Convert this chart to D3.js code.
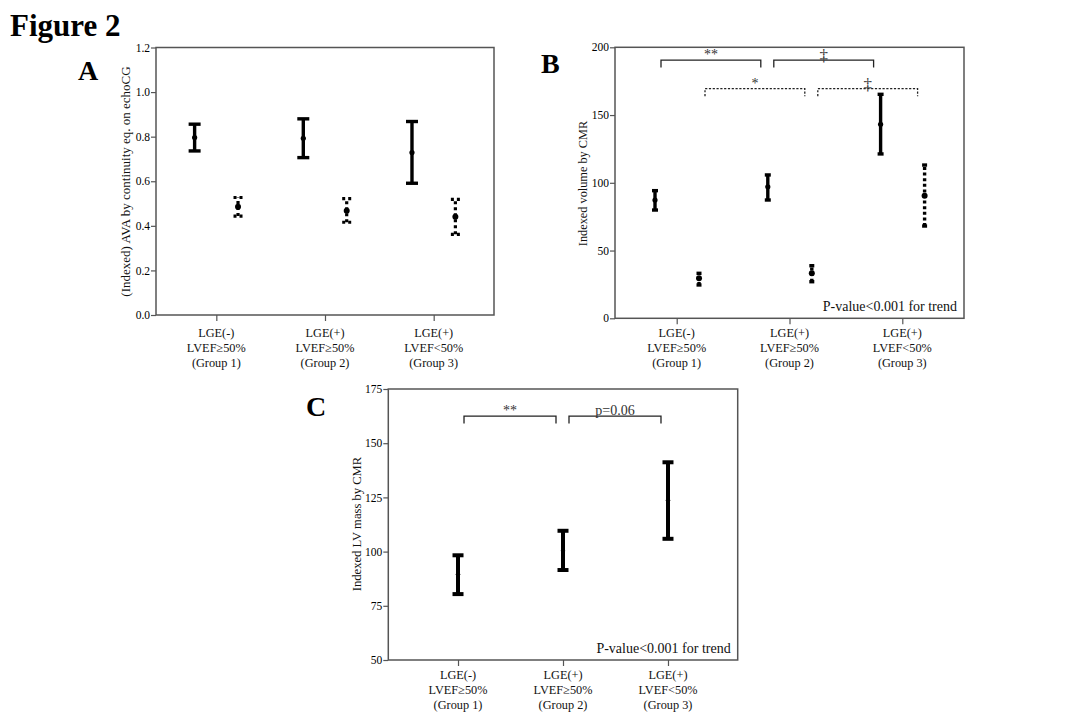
<!DOCTYPE html>
<html><head><meta charset="utf-8">
<script src="https://cdn.jsdelivr.net/npm/d3@7"></script>
<style>
body{margin:0;background:#fff}
svg{display:block;font-family:"Liberation Serif","Times New Roman",serif}
</style>
</head><body>
<svg id="chart" width="1080" height="720"></svg>
<script>
// ---------- data ----------
const groups = ["Group 1", "Group 2", "Group 3"];
const groupLabels = [
  ["LGE(-)", "LVEF\u226550%", "(Group 1)"],
  ["LGE(+)", "LVEF\u226550%", "(Group 2)"],
  ["LGE(+)", "LVEF<50%", "(Group 3)"]
];

// Panel A: (Indexed) AVA by continuity eq. on echoCG
const aSolidMean = [0.796, 0.793, 0.729];
const aSolidLow  = [0.736, 0.706, 0.591];
const aSolidHigh = [0.856, 0.880, 0.868];
const aDotMean   = [0.486, 0.468, 0.441];
const aDotLow    = [0.444, 0.416, 0.362];
const aDotHigh   = [0.527, 0.522, 0.519];
const aTicks = [0.0, 0.2, 0.4, 0.6, 0.8, 1.0, 1.2];

// Panel B: Indexed volume by CMR
const bSolidMean = [87.3, 97.1, 143.2];
const bSolidLow  = [79.9, 87.3, 121.3];
const bSolidHigh = [94.2, 105.8, 165.3];
const bDotMean   = [29.5, 33.2, 90.5];
const bDotLow    = [24.6, 27.0, 68.1];
const bDotHigh   = [33.2, 38.8, 113.1];
const bTicks = [0, 50, 100, 150, 200];
const bBrackets = [
  {from: 0, to: 1, series: "solid",  y: 190.6, label: "**"},
  {from: 1, to: 2, series: "solid",  y: 190.6, label: "\u2021"},
  {from: 0, to: 1, series: "dotted", y: 169.5, label: "*"},
  {from: 1, to: 2, series: "dotted", y: 169.5, label: "\u2021"}
];

// Panel C: Indexed LV mass by CMR
const cMean = [89.5, 100.4, 123.7];
const cLow  = [80.4, 91.5, 105.9];
const cHigh = [98.3, 109.6, 141.2];
const cTicks = [50, 75, 100, 125, 150, 175];
const cBrackets = [
  {from: 0, to: 1, series: "solid", y: 162.5, label: "**"},
  {from: 1, to: 2, series: "solid", y: 162.5, label: "p=0.06"}
];

const trendText = "P-value<0.001 for trend";

// ---------- drawing ----------
const svg = d3.select("#chart");
const AXIS = "#555";

function zip(m, lo, hi) { return m.map((v, i) => ({i, mean: v, low: lo[i], high: hi[i]})); }

function drawPanel(p) {
  const g = svg.append("g");
  const x = d3.scalePoint().domain(d3.range(groups.length)).range([p.l, p.r]).padding(p.pad);
  const y = d3.scaleLinear().domain(p.domain).range([p.b, p.t]);

  // y axis
  const ya = g.append("g").attr("transform", `translate(${p.l},0)`)
    .call(d3.axisLeft(y).tickValues(p.ticks).tickFormat(p.fmt).tickSize(5).tickPadding(1));
  ya.attr("font-family", null).attr("font-size", null);
  ya.select(".domain").remove();
  ya.selectAll("line").attr("stroke", AXIS).attr("stroke-width", 1.2);
  ya.selectAll("text").attr("font-size", 11.5).attr("fill", "#000")
    .attr("font-family", "Liberation Serif, serif");

  // x axis
  const xa = g.append("g").attr("transform", `translate(0,${p.b})`)
    .call(d3.axisBottom(x).tickSize(6).tickFormat(""));
  xa.select(".domain").remove();
  xa.selectAll("line").attr("stroke", AXIS).attr("stroke-width", 1.2);

  // x labels
  groupLabels.forEach((lines, i) => {
    lines.forEach((s, k) => {
      g.append("text").attr("x", x(i)).attr("y", p.b + p.lab0 + k * 15)
        .attr("text-anchor", "middle").attr("dominant-baseline", "central")
        .attr("font-size", 12.3).attr("fill", "#111").text(s);
    });
  });

  // frame
  g.append("rect").attr("x", p.l).attr("y", p.t).attr("width", p.r - p.l).attr("height", p.b - p.t)
    .attr("fill", "none").attr("stroke", AXIS).attr("stroke-width", 1.5);

  // y label
  g.append("text").attr("transform", `translate(${p.ylx},${p.ylc}) rotate(-90)`)
    .attr("text-anchor", "middle").attr("dominant-baseline", "central")
    .attr("font-size", p.ylfs).attr("fill", "#111").text(p.ylabel);

  // series
  p.series.forEach(s => {
    const dash = s.dotted ? s.dash : null;
    const sg = g.append("g");
    const pts = zip(s.mean, s.low, s.high);
    sg.selectAll(".v").data(pts).join("line")
      .attr("x1", d => x(d.i) + s.off).attr("x2", d => x(d.i) + s.off)
      .attr("y1", d => y(d.low)).attr("y2", d => y(d.high))
      .attr("stroke", "#000").attr("stroke-width", s.sw).attr("stroke-dasharray", dash);
    ["low", "high"].forEach(key => {
      sg.selectAll(".c" + key).data(pts).join("line")
        .attr("x1", d => x(d.i) + s.off - s.cap / 2).attr("x2", d => x(d.i) + s.off + s.cap / 2)
        .attr("y1", d => y(d[key])).attr("y2", d => y(d[key]))
        .attr("stroke", "#000").attr("stroke-width", s.sw)
        .attr("stroke-dasharray", s.dotted ? s.capDash : null);
    });
    sg.selectAll("circle").data(pts).join("circle")
      .attr("cx", d => x(d.i) + s.off).attr("cy", d => y(d.mean)).attr("r", s.r)
      .attr("fill", "#000");
  });

  // brackets
  (p.brackets || []).forEach(br => {
    const off = br.series === "dotted" ? p.offD : p.offS;
    const x1 = x(br.from) + off + 6, x2 = x(br.to) + off - 7;
    const yy = y(br.y);
    g.append("path").attr("d", `M${x1},${yy + 7.5}V${yy}H${x2}V${yy + 7.5}`)
      .attr("fill", "none").attr("stroke", "#222").attr("stroke-width", 1.3)
      .attr("stroke-dasharray", br.series === "dotted" ? "2.2,1.6" : null);
    const isDagger = br.label === "\u2021";
    g.append("text").attr("x", (x1 + x2) / 2).attr("y", isDagger ? yy + 1 : yy - 1)
      .attr("text-anchor", "middle").attr("font-size", isDagger ? 17 : 14)
      .attr("fill", "#333").text(br.label);
  });

  if (p.trend) {
    g.append("text").attr("x", p.r - 7).attr("y", p.b - 7.5)
      .attr("text-anchor", "end").attr("font-size", 14).attr("fill", "#111").text(trendText);
  }
}

// Panel A
drawPanel({
  l: 156, r: 494, t: 47.5, b: 315, pad: 0.555,
  domain: [0, 1.2], ticks: aTicks, fmt: d3.format(".1f"),
  ylabel: "(Indexed) AVA by continuity eq. on echoCG", ylx: 125, ylc: 181.5, ylfs: 13, lab0: 18,
  offS: -21.7, offD: 21.7,
  series: [
    {mean: aSolidMean, low: aSolidLow, high: aSolidHigh, off: -21.7, sw: 3.4, cap: 12, r: 2.6, dotted: false},
    {mean: aDotMean, low: aDotLow, high: aDotHigh, off: 21.7, sw: 3.2, cap: 9, r: 3, dotted: true, dash: "3,3", capDash: "3,3"}
  ]
});

// Panel B
drawPanel({
  l: 615, r: 964, t: 47.3, b: 318.3, pad: 0.547,
  domain: [0, 200], ticks: bTicks, fmt: d3.format("d"),
  ylabel: "Indexed volume by CMR", ylx: 583.3, ylc: 183.5, ylfs: 12.3, lab0: 15,
  offS: -21.7, offD: 22.3,
  series: [
    {mean: bSolidMean, low: bSolidLow, high: bSolidHigh, off: -21.7, sw: 3.4, cap: 6, r: 2.6, dotted: false},
    {mean: bDotMean, low: bDotLow, high: bDotHigh, off: 22.3, sw: 3.4, cap: 5, r: 3, dotted: true, dash: "3,2.6", capDash: null}
  ],
  brackets: bBrackets, trend: true
});

// Panel C
drawPanel({
  l: 388.3, r: 737.7, t: 389, b: 660, pad: 0.664,
  domain: [50, 175], ticks: cTicks, fmt: d3.format("d"),
  ylabel: "Indexed LV mass by CMR", ylx: 356.7, ylc: 524, ylfs: 12.6, lab0: 15,
  offS: 0, offD: 0,
  series: [
    {mean: cMean, low: cLow, high: cHigh, off: 0, sw: 4, cap: 11, r: 2.2, dotted: false}
  ],
  brackets: cBrackets, trend: true
});

// titles
svg.append("text").attr("x", 10).attr("y", 36).attr("font-size", 31).attr("font-weight", "bold")
  .attr("fill", "#000").text("Figure 2");
[["A", 78, 80], ["B", 541, 73], ["C", 306, 416]].forEach(([t, xx, yy]) => {
  svg.append("text").attr("x", xx).attr("y", yy).attr("font-size", 28).attr("font-weight", "bold")
    .attr("fill", "#000").text(t);
});
</script>
</body></html>
